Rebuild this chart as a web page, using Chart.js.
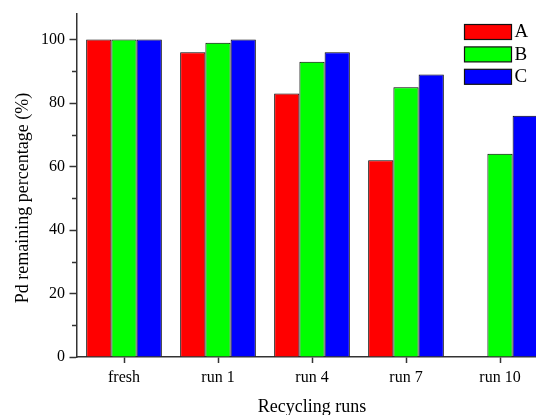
<!DOCTYPE html>
<html>
<head>
<meta charset="utf-8">
<script src="https://cdn.jsdelivr.net/npm/chart.js@4/dist/chart.umd.min.js"></script>
<style>
  html, body { margin: 0; padding: 0; background: #fff; overflow: hidden; }
  #wrap { width: 536px; height: 415px; overflow: hidden; position: relative; }
  #box { width: 548px; height: 418px; position: absolute; left: 0; top: 0; }
</style>
</head>
<body>
<div id="wrap"><div id="box"><canvas id="c"></canvas></div></div>
<script>
// Recycling test: Pd remaining percentage per catalyst
const categories = ['fresh', 'run 1', 'run 4', 'run 7', 'run 10'];
const seriesNames = ['A', 'B', 'C'];
const seriesA = [100, 96, 83, 62, 0];
const seriesB = [100, 99, 93, 85, 64];
const seriesC = [100, 100, 96, 89, 76];
const majorTicks = [0, 20, 40, 60, 80, 100];
const minorTicks = [10, 30, 50, 70, 90];

const colors = ['#ff0000', '#00ff00', '#0000ff'];
const serif = "'Liberation Serif', 'DejaVu Serif', serif";
const axisColor = '#333333';

// short minor tick marks on the value axis
const minorTickPlugin = {
  id: 'minorTicks',
  afterDraw(chart) {
    const y = chart.scales.y;
    const ctx = chart.ctx;
    ctx.save();
    ctx.strokeStyle = axisColor;
    ctx.lineWidth = 1.5;
    minorTicks.forEach(v => {
      const py = Math.round(y.getPixelForValue(v)) + 0.5;
      ctx.beginPath();
      ctx.moveTo(y.right - 5, py);
      ctx.lineTo(y.right, py);
      ctx.stroke();
    });
    ctx.restore();
  }
};

// vertical axis title
const yTitlePlugin = {
  id: 'yTitle',
  afterDraw(chart) {
    const ctx = chart.ctx;
    ctx.save();
    ctx.translate(23, 198);
    ctx.rotate(-Math.PI / 2);
    ctx.font = '18px ' + serif;
    ctx.fillStyle = '#000';
    ctx.textAlign = 'center';
    ctx.textBaseline = 'middle';
    ctx.fillText('Pd remaining percentage (%)', 0, 0);
    ctx.restore();
  }
};

// stacked legend in the upper right of the plot
const legendPlugin = {
  id: 'boxLegend',
  afterDraw(chart) {
    const ctx = chart.ctx;
    ctx.save();
    ctx.font = '19px ' + serif;
    ctx.textBaseline = 'middle';
    ctx.textAlign = 'left';
    chart.data.datasets.forEach((ds, i) => {
      const x = 464.5, y = 24.5 + i * 22.4;
      ctx.fillStyle = ds.backgroundColor;
      ctx.fillRect(x, y, 47, 15);
      ctx.strokeStyle = '#111';
      ctx.lineWidth = 1.2;
      ctx.strokeRect(x, y, 47, 15);
      ctx.fillStyle = '#000';
      ctx.fillText(ds.label, x + 50, y + 8);
    });
    ctx.restore();
  }
};

const datasets = [seriesA, seriesB, seriesC].map((vals, i) => ({
  label: seriesNames[i],
  data: vals,
  backgroundColor: colors[i],
  borderColor: '#000000',
  borderWidth: 1,
  categoryPercentage: 0.805,
  barPercentage: 1.0
}));

new Chart(document.getElementById('c'), {
  type: 'bar',
  data: { labels: categories, datasets },
  plugins: [minorTickPlugin, yTitlePlugin, legendPlugin],
  options: {
    responsive: true,
    maintainAspectRatio: false,
    animation: false,
    layout: { padding: { top: 13, right: 1, left: 0, bottom: 0 } },
    plugins: { legend: { display: false }, tooltip: { enabled: false } },
    scales: {
      x: {
        grid: {
          display: true, drawOnChartArea: false, offset: false,
          tickLength: 6, tickColor: axisColor, tickWidth: 1.5
        },
        border: { display: true, color: axisColor, width: 1.5 },
        ticks: { color: '#000', font: { family: serif, size: 16 }, padding: 5, maxRotation: 0 },
        title: {
          display: true, text: 'Recycling runs', color: '#000',
          font: { family: serif, size: 18 }, padding: { top: 0, bottom: 0 }
        },
        afterFit(scale) { scale.height = 61; }
      },
      y: {
        min: 0, max: 108,
        afterBuildTicks(scale) { scale.ticks = majorTicks.map(v => ({ value: v })); },
        grid: {
          display: true, drawOnChartArea: false,
          tickLength: 7.5, tickColor: axisColor, tickWidth: 1.5
        },
        border: { display: true, color: axisColor, width: 1.5 },
        ticks: { color: '#000', font: { family: serif, size: 16 }, padding: 4.5 },
        afterFit(scale) { scale.width = 77; }
      }
    }
  }
});
</script>
</body>
</html>
